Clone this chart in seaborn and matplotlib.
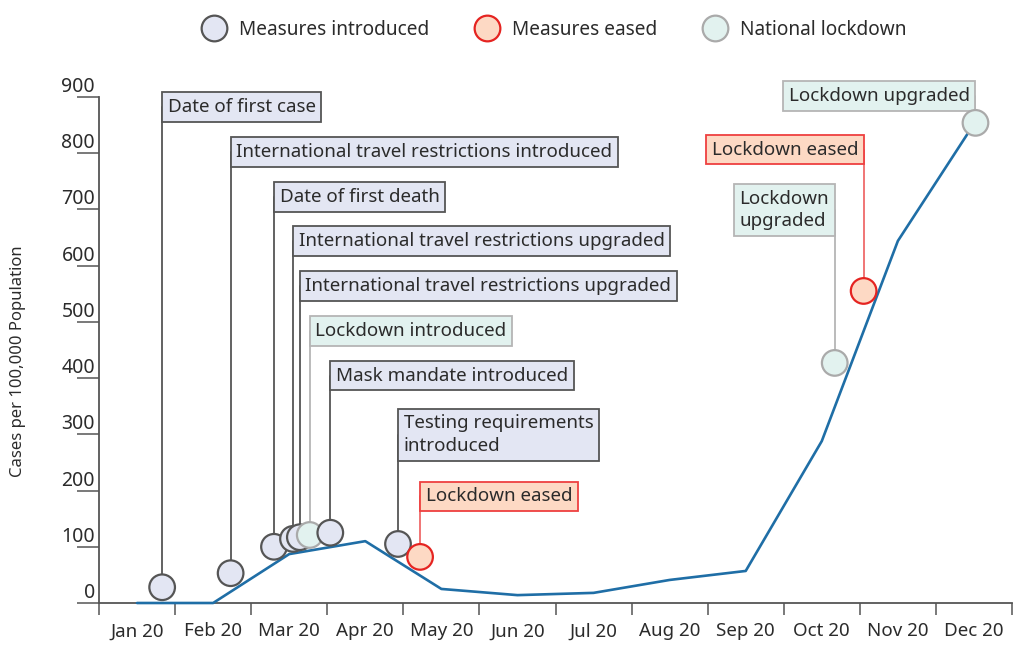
import matplotlib
matplotlib.use('Agg')
import matplotlib.pyplot as plt
import seaborn as sns
import pandas as pd
import numpy as np
from matplotlib.lines import Line2D
from matplotlib.transforms import ScaledTranslation

# ---------------- data ----------------
months = ['Jan 20', 'Feb 20', 'Mar 20', 'Apr 20', 'May 20', 'Jun 20',
          'Jul 20', 'Aug 20', 'Sep 20', 'Oct 20', 'Nov 20', 'Dec 20']
cases = [0, 0, 87, 110, 25, 14, 18, 41, 57, 288, 644, 852]

event_labels = ['Date of first case',
                'International travel restrictions introduced',
                'Date of first death',
                'International travel restrictions upgraded',
                'International travel restrictions upgraded',
                'Lockdown introduced',
                'Mask mandate introduced',
                'Testing requirements\nintroduced',
                'Lockdown eased',
                'Lockdown\nupgraded',
                'Lockdown eased',
                'Lockdown upgraded']
event_month = [0.83, 1.73, 2.30, 2.55, 2.64, 2.77, 3.04, 3.93, 4.22, 9.67, 10.05, 11.52]
event_value = [28, 53, 100, 114, 117, 121, 125, 105, 82, 427, 555, 854]
event_type = ['Measures introduced'] * 5 + ['National lockdown', 'Measures introduced',
              'Measures introduced', 'Measures eased', 'National lockdown',
              'Measures eased', 'National lockdown']

y_ticks = [0, 100, 200, 300, 400, 500, 600, 700, 800, 900]
y_title = 'Cases per 100,000 Population'

# ---------------- layout (label box heights / sides) ----------------
label_y = [882, 802, 722, 644, 564, 484, 404, 299, 190, 699, 806, 902]
label_side = ['left'] * 9 + ['right', 'right', 'right']

# ---------------- styles ----------------
type_order = ['Measures introduced', 'Measures eased', 'National lockdown']
fill = {'Measures introduced': '#e3e6f3', 'Measures eased': '#fdd9c4',
        'National lockdown': '#e2f2ef'}
edge = {'Measures introduced': '#555555', 'Measures eased': '#e52421',
        'National lockdown': '#aaaaaa'}
box_edge = {'Measures introduced': '#555555', 'Measures eased': '#ee4040',
            'National lockdown': '#b5b5b5'}
leader = {'Measures introduced': '#555555', 'Measures eased': '#ef6a6a',
          'National lockdown': '#b5b5b5'}
line_color = '#1f6ea6'
axis_color = '#555555'
text_color = '#2b2b2b'

sns.set_style('white')
plt.rcParams['font.family'] = ['Noto Sans', 'DejaVu Sans']

fig = plt.figure(figsize=(10.14, 6.48), dpi=100)
ax = fig.add_axes([99 / 1014, 45 / 648, (1012 - 99) / 1014, (603 - 97) / 648])

df = pd.DataFrame({'pos': np.arange(len(months)) + 0.5, 'cases': cases})
sns.lineplot(data=df, x='pos', y='cases', ax=ax, color=line_color, lw=1.9,
             zorder=3, clip_on=False)

ev = pd.DataFrame({'x': event_month, 'y': event_value, 'type': event_type})
sns.scatterplot(data=ev, x='x', y='y', hue='type', palette=fill, ax=ax,
                s=340, linewidth=1.6, legend=False, zorder=5, clip_on=False)
pts = ax.collections[-1]
pts.set_edgecolors([edge[t] for t in event_type])

fs = 13.5
pad = 0.3
for lab, xm, yv, ly, side, t in zip(event_labels, event_month, event_value,
                                     label_y, label_side, event_type):
    ax.plot([xm, xm], [yv, ly], color=leader[t], lw=1.3, zorder=2, clip_on=False)
    dx = pad * fs / 72.0
    if side == 'left':
        tr = ax.transData + ScaledTranslation(dx, 0, fig.dpi_scale_trans)
        ha = 'left'
    else:
        tr = ax.transData + ScaledTranslation(-dx, 0, fig.dpi_scale_trans)
        ha = 'right'
    ax.text(xm, ly, lab, transform=tr, ha=ha, va='center', fontsize=fs,
            multialignment='left',
            color=text_color, linespacing=1.35, zorder=4, clip_on=False,
            bbox=dict(boxstyle=f'square,pad={pad}', fc=fill[t], ec=box_edge[t], lw=1.3))

# axes
ax.set_xlim(0, 12)
ax.set_ylim(0, 900)
ax.set_xlabel('')
ax.set_ylabel('')
for s in ['top', 'right']:
    ax.spines[s].set_visible(False)
for s in ['left', 'bottom']:
    ax.spines[s].set_color(axis_color)
    ax.spines[s].set_linewidth(1.3)

ax.set_xticks(np.arange(0, 13))
ax.set_xticklabels([])
ax.set_xticks(np.arange(len(months)) + 0.5, minor=True)
ax.set_xticklabels(months, minor=True, fontsize=13.5, color=text_color)
ax.tick_params(axis='x', which='major', direction='out', length=8.6, width=1.1,
               color=axis_color, bottom=True)
ax.tick_params(axis='x', which='minor', length=0, pad=14, bottom=True)

ax.set_yticks(y_ticks)
ax.set_yticklabels([str(v) for v in y_ticks], fontsize=14, color=text_color)
ax.tick_params(axis='y', direction='out', length=15.8, width=1.1, color=axis_color,
               pad=-13, left=True)
for lbl in ax.get_yticklabels():
    lbl.set_va('bottom')

fig.text(18 / 1014, 1 - 361 / 648, y_title, rotation=90, ha='center', va='center',
         fontsize=12, color=text_color)

handles = [Line2D([], [], ls='', marker='o', markersize=18.5, mfc=fill[t], mec=edge[t],
                  mew=1.6) for t in type_order]
fig.legend(handles, type_order, loc='center', bbox_to_anchor=(0.547, 1 - 30 / 648),
           ncol=3, frameon=False, fontsize=13.7, handletextpad=0.75, columnspacing=2.4,
           labelcolor=text_color, handlelength=1.2)

fig.savefig('out.png', dpi=100)
